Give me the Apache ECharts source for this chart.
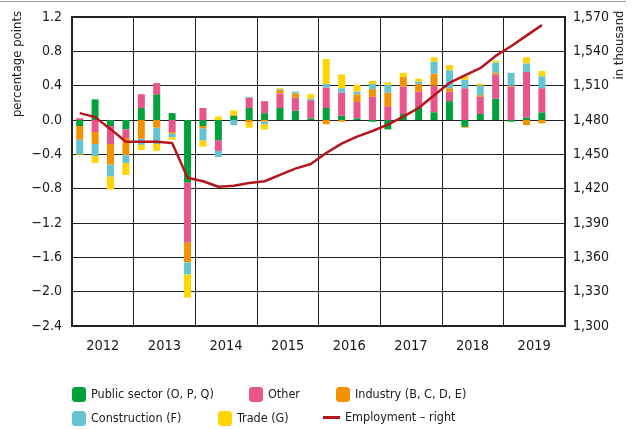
<!DOCTYPE html>
<html>
<head>
<meta charset="utf-8">
<script src="https://cdn.jsdelivr.net/npm/echarts@6/dist/echarts.min.js"></script>
<style>
  html, body { margin: 0; padding: 0; background: #fff; }
  #chart { width: 638px; height: 429px; }
</style>
</head>
<body>
<div id="chart"></div>
<script>
// quarters 2012Q1 .. 2019Q4 (2019Q4 not yet available)
const years = ['2012', '2013', '2014', '2015', '2016', '2017', '2018', '2019'];
const quarters = [];
years.forEach(y => { for (let q = 1; q <= 4; q++) quarters.push(y + 'Q' + q); });

// contributions, percentage points
const publicSector = [
  -0.07, 0.24, -0.07, -0.11,
  0.14, 0.30, 0.08, -0.73,
  -0.07, -0.24, 0.05, 0.14,
  0.08, 0.14, 0.11, 0.02,
  0.14, 0.05, 0.02, -0.02,
  -0.11, 0.07, 0.15, 0.09,
  0.22, -0.08, 0.07, 0.25,
  -0.02, 0.03, 0.09, null
];
const other = [
  0.02, -0.14, -0.21, -0.10,
  0.16, 0.13, -0.14, -0.70,
  0.14, -0.12, 0.00, 0.12,
  0.14, 0.17, 0.15, 0.21,
  0.24, 0.27, 0.19, 0.27,
  0.16, 0.32, 0.18, 0.31,
  0.11, 0.37, 0.20, 0.28,
  0.39, 0.53, 0.28, null
];
const industry = [
  -0.16, -0.14, -0.24, -0.20,
  -0.22, -0.09, -0.02, -0.23,
  -0.03, 0.00, 0.01, -0.03,
  -0.02, 0.04, 0.05, 0.00,
  -0.05, -0.02, 0.09, 0.09,
  0.16, 0.11, 0.09, 0.14,
  0.04, -0.01, 0.02, 0.02,
  0.01, -0.06, -0.04, null
];
const construction = [
  -0.17, -0.14, -0.14, -0.09,
  -0.07, -0.19, -0.04, -0.14,
  -0.14, -0.07, -0.06, 0.01,
  -0.03, 0.01, 0.02, 0.02,
  0.04, 0.05, 0.03, 0.06,
  0.09, 0.00, 0.03, 0.14,
  0.21, 0.10, 0.11, 0.12,
  0.15, 0.10, 0.14, null
];
const trade = [
  -0.01, -0.08, -0.15, -0.14,
  -0.06, -0.08, -0.03, -0.27,
  -0.07, 0.04, 0.05, -0.06,
  -0.06, 0.01, 0.00, 0.05,
  0.29, 0.16, 0.08, 0.035,
  0.03, 0.05, 0.03, 0.05,
  0.06, 0.04, 0.02, 0.02,
  0.00, 0.07, 0.06, null
];
// employment, in thousand (right axis)
const employment = [
  1486, 1482.5, 1472, 1461,
  1461, 1461, 1460, 1429.5,
  1426.5, 1421.7, 1422.5, 1424.9,
  1426.5, 1432, 1437.5, 1441.6,
  1451.2, 1459.4, 1465.5, 1470.4,
  1476, 1483, 1490.5, 1501.7,
  1512.4, 1518.9, 1525.3, 1536,
  1544.5, 1553.7, 1562.9, null
];

const FONT = "'DejaVu Sans Condensed', 'Liberation Sans', sans-serif";
const INK = '#1a1a1a';
const colors = {
  pub: '#00A13A',
  other: '#E9548A',
  ind: '#F39200',
  con: '#64C4D2',
  trade: '#FFD400',
  emp: '#B5161D'
};

const chart = echarts.init(document.getElementById('chart'), null, { renderer: 'canvas' });

const bar = (name, data, color) => ({
  name, type: 'bar', stack: 'contrib', data,
  xAxisIndex: 0, yAxisIndex: 0,
  barWidth: 7,
  itemStyle: { color },
  emphasis: { disabled: true }
});

const legendAt = (item, left, top, extra) => Object.assign({
  data: [item], left, top, padding: 0,
  itemWidth: 14, itemHeight: 15, itemGap: 0,
  selectedMode: false,
  textStyle: { fontFamily: FONT, fontSize: 12.5, color: INK }
}, extra || {});

chart.setOption({
  animation: false,
  grid: {
    left: 72, right: 73, top: 17, bottom: 103,
    show: true, borderColor: '#222', borderWidth: 2, backgroundColor: 'transparent'
  },
  xAxis: [{
    type: 'category', data: quarters, show: false, boundaryGap: true
  }, {
    type: 'category', data: years, position: 'bottom', boundaryGap: true,
    axisLine: { show: false }, axisTick: { show: false },
    axisLabel: { fontFamily: FONT, fontSize: 14.5, color: INK, margin: 13 },
    splitLine: { show: true, interval: 0, lineStyle: { color: '#222', width: 1 } }
  }],
  yAxis: [{
    type: 'value', min: -2.4, max: 1.2, interval: 0.4,
    axisLine: { show: false }, axisTick: { show: false },
    axisLabel: {
      fontFamily: FONT, fontSize: 14, color: INK, margin: 10,
      formatter: v => (v < -1e-9 ? '\u2212' : '') + Math.abs(v).toFixed(1)
    },
    splitLine: { lineStyle: { color: '#222', width: 1 } }
  }, {
    type: 'value', min: 1300, max: 1570, interval: 30, position: 'right',
    axisLine: { show: false }, axisTick: { show: false },
    axisLabel: {
      fontFamily: FONT, fontSize: 14, color: INK, margin: 8,
      formatter: v => String(v).replace(/(\d)(\d{3})$/, '$1,$2')
    },
    splitLine: { show: false }
  }],
  legend: [
    legendAt('Public sector (O, P, Q)', 72, 387),
    legendAt('Other', 249, 387),
    legendAt('Industry (B, C, D, E)', 336, 387),
    legendAt('Construction (F)', 72, 411),
    legendAt('Trade (G)', 218, 411),
    legendAt({ name: 'Employment \u2013 right', icon: 'rect', itemStyle: { color: colors.emp } },
      323, 411, { itemWidth: 17, itemHeight: 3 })
  ],
  graphic: [
    { type: 'line', shape: { x1: 0, y1: 1.5, x2: 626, y2: 1.5 }, style: { stroke: '#999', lineWidth: 1 } },
    { type: 'text', x: 18, y: 64, rotation: Math.PI / 2,
      style: { text: 'percentage points', font: '13px ' + FONT, fill: INK, align: 'center', verticalAlign: 'middle' } },
    { type: 'text', x: 620, y: 45, rotation: Math.PI / 2,
      style: { text: 'in thousand', font: '13px ' + FONT, fill: INK, align: 'center', verticalAlign: 'middle' } }
  ],
  series: [
    bar('Public sector (O, P, Q)', publicSector, colors.pub),
    bar('Other', other, colors.other),
    bar('Industry (B, C, D, E)', industry, colors.ind),
    bar('Construction (F)', construction, colors.con),
    bar('Trade (G)', trade, colors.trade),
    {
      name: 'Employment \u2013 right', type: 'line', data: employment,
      xAxisIndex: 0, yAxisIndex: 1,
      symbol: 'none', z: 5,
      lineStyle: { color: colors.emp, width: 2.5 },
      itemStyle: { color: colors.emp },
      emphasis: { disabled: true }
    }
  ]
});
</script>
</body>
</html>
